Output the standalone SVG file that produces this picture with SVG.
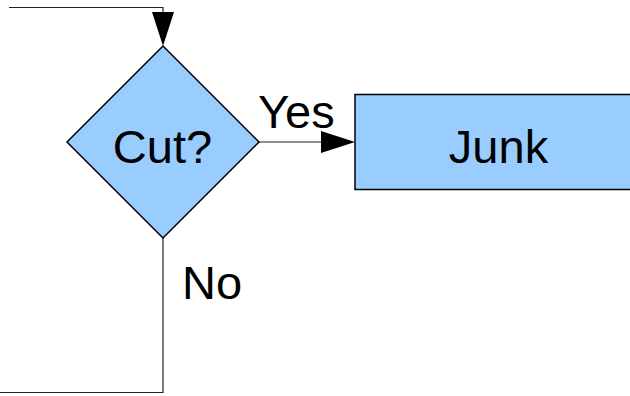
<svg xmlns="http://www.w3.org/2000/svg" width="630" height="396" viewBox="0 0 630 396">
<style>
.shape{fill:#99ccff;stroke:#000;stroke-width:1.5}
.lbl{font-family:"Liberation Sans",Arial,sans-serif;font-size:47px;fill:#000}
.con{fill:none;stroke:#222;stroke-width:1.2}
.head{fill:#000}
</style>
<rect width="630" height="396" fill="#fff"/>
<g id="connectors">
<polyline class="con" points="9,7.5 163,7.5 163,14"/>
<polygon class="head" points="152,12 174,12 163,46"/>
<line class="con" x1="259" y1="142" x2="323" y2="142"/>
<polygon class="head" points="321,131 321,153 355,142"/>
<polyline class="con" points="163,238 163,392.5 0,392.5"/>
<text class="lbl" x="258" y="128">Yes</text>
<text class="lbl" x="182" y="299">No</text>
</g>
<g id="cut">
<polygon class="shape" points="163,46 259,142 163,238 67,142"/>
<text class="lbl" x="162.5" y="162.5" text-anchor="middle">Cut?</text>
</g>
<g id="junk">
<rect class="shape" x="355" y="94.5" width="290" height="95"/>
<text class="lbl" x="498.5" y="162.5" text-anchor="middle">Junk</text>
</g>
</svg>
